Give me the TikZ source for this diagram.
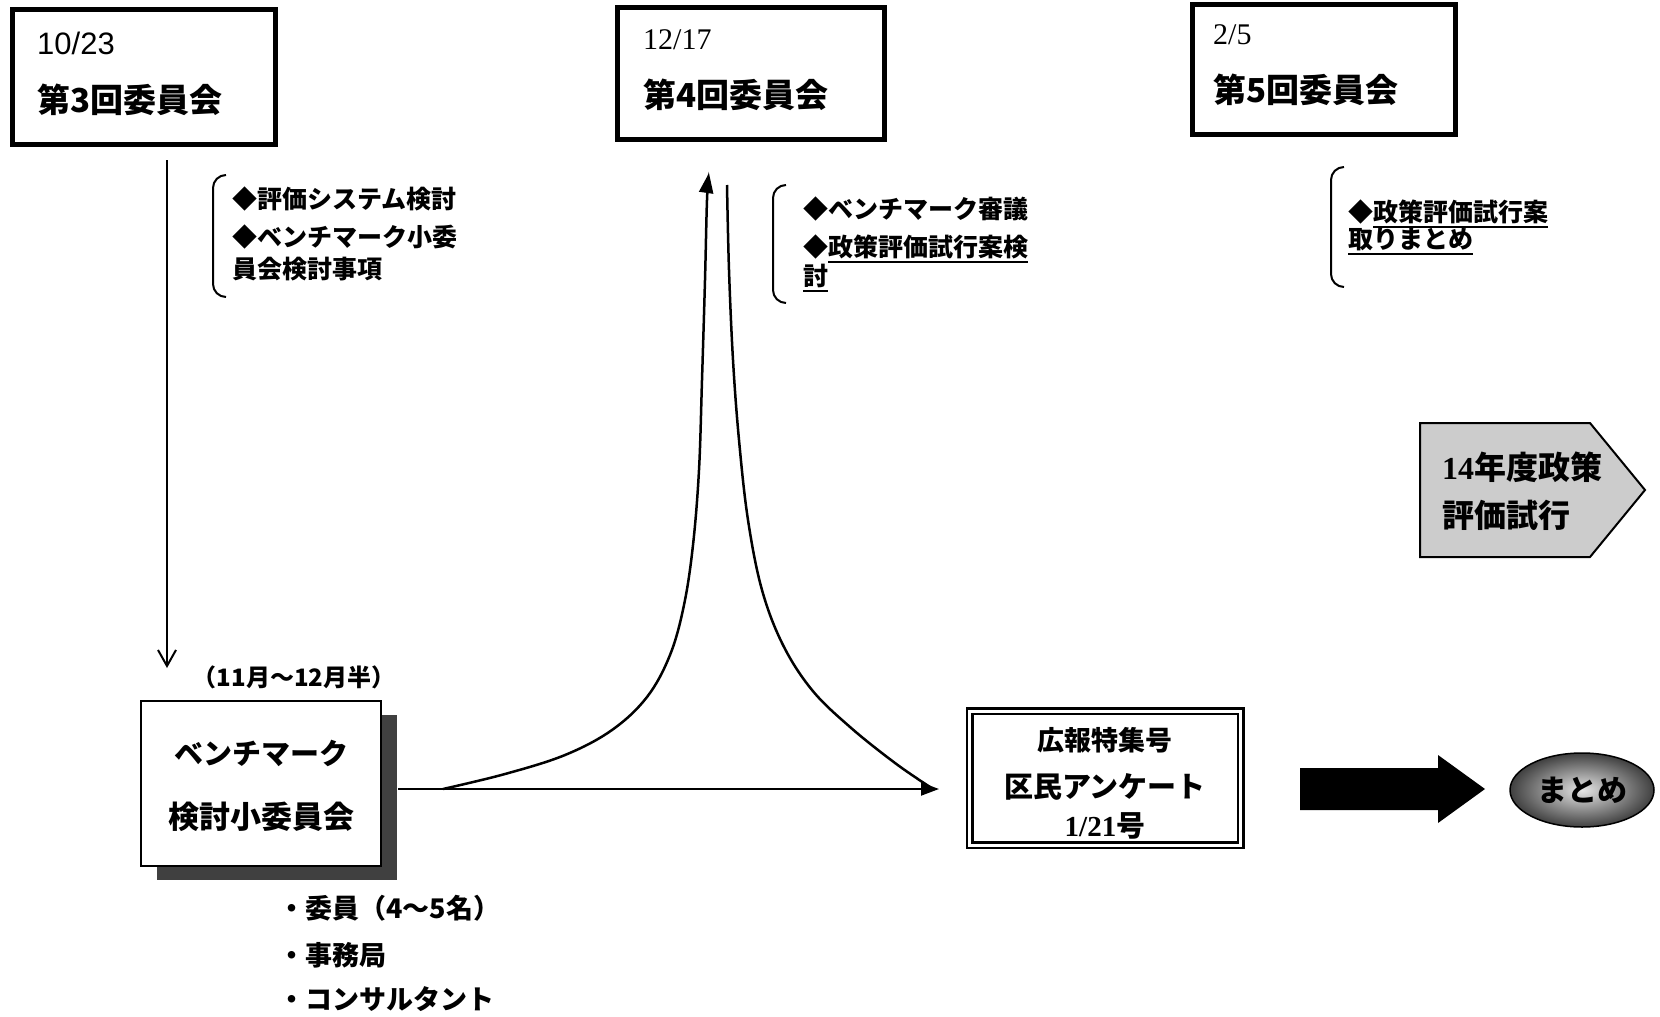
\documentclass[tikz,border=0pt]{standalone}
\usepackage{fontspec}
\setmainfont{Liberation Serif}
\newfontfamily\jp{Noto Sans CJK JP}
\newfontfamily\sansf{Liberation Sans}
\usetikzlibrary{arrows.meta,shapes.geometric,shadows,calc}
\newcommand\fsz[1]{\fontsize{#1}{#1}\selectfont}
\newcommand\myul[1]{\setbox0\hbox{#1}\rlap{\rule[-6pt]{\wd0}{2pt}}\box0}
\begin{document}
\begin{tikzpicture}[x=1pt,y=-1pt,
  cbox/.style={draw, line width=5pt, inner sep=0pt, fill=white},
  ctitle/.style={inner sep=0pt, anchor=west, font={\jp\bfseries\fsz{33}}},
  cdate/.style={inner sep=0pt, anchor=west, font={\fsz{30}}},
  note/.style={inner sep=0pt, anchor=west, text height=21pt, text depth=4pt, font={\jp\bfseries\fsz{25}}},
  brk/.style={line width=2pt},
  boxtext/.style={inner sep=0pt, font={\jp\bfseries\fsz{29}}},
  listtext/.style={inner sep=0pt, anchor=west, font={\jp\bfseries\fsz{27}}},
  curve/.style={line width=2.5pt, -{Triangle[length=20pt,width=14pt]}},
]
\useasboundingbox[fill=white] (0,0) rectangle (1660,1017);

% committee boxes
\node[cbox, minimum width=263pt, minimum height=135pt] (c3) at (144,77) {};
\node[cdate, font={\sansf\fsz{31}}] (c3d) at (37,43) {10/23};
\node[ctitle] (c3t) at (37,100) {第3回委員会};

\node[cbox, minimum width=267pt, minimum height=132pt] (c4) at (751,73.5) {};
\node[cdate] (c4d) at (643,40) {12/17};
\node[ctitle] (c4t) at (643,95) {第4回委員会};

\node[cbox, minimum width=263pt, minimum height=130pt] (c5) at (1324,69.5) {};
\node[cdate] (c5d) at (1213,35) {2/5};
\node[ctitle] (c5t) at (1213,90) {第5回委員会};

% bracket notes
\draw[brk] (226,175) to[out=180,in=90] (213,188) -- (213,284) to[out=-90,in=180] (226,297);
\node[note] (n1a) at (232,200) {◆評価システム検討};
\node[note] (n1b) at (232,238) {◆ベンチマーク小委};
\node[note] (n1c) at (232,270) {員会検討事項};

\draw[brk] (786,185) to[out=180,in=90] (773,198) -- (773,290) to[out=-90,in=180] (786,303);
\node[note] (n2a) at (803,210) {◆ベンチマーク審議};
\node[note] (n2b) at (803,248) {◆\myul{政策評価試行案検}};
\node[note] (n2c) at (803,277) {\myul{討}};

\draw[brk] (1344,167) to[out=180,in=90] (1331,180) -- (1331,274) to[out=-90,in=180] (1344,287);
\node[note] (n3a) at (1348,213) {◆\myul{政策評価試行案}};
\node[note] (n3b) at (1348,240) {\myul{取りまとめ}};

% 14 nendo pentagon
\draw[line width=2pt, fill=black!20] (1420,423) -- (1590,423) -- (1645,490) -- (1590,557) -- (1420,557) -- cycle;
\node[inner sep=0pt, anchor=west, font={\jp\bfseries\fsz{32}}] (p1) at (1442,467) {{\rmfamily 14}年度政策};
\node[inner sep=0pt, anchor=west, font={\jp\bfseries\fsz{32}}] (p2) at (1442,515) {評価試行};

% vertical arrow
\coordinate (va) at (167,160);
\coordinate (vb) at (167,668);
\draw[line width=2pt, -{Straight Barb[length=16pt,width=18pt]}] (va) -- (vb);

% benchmark box
\node[inner sep=0pt, font={\jp\bfseries\fsz{24}}] (period) at (294,677) {（11月～12月半）};
\node[draw, line width=2pt, fill=white, minimum width=240pt, minimum height=165pt, inner sep=0pt,
      drop shadow={shadow xshift=16pt, shadow yshift=-14pt, fill=black!75, opacity=1}] (bm) at (261,783.5) {};
\node[boxtext] (bm1) at (261,753) {ベンチマーク};
\node[boxtext, font={\jp\bfseries\fsz{31}}] (bm2) at (261,817) {検討小委員会};

\node[listtext] (l1) at (278,908) {・委員（4～5名）};
\node[listtext] (l2) at (278,955) {・事務局};
\node[listtext] (l3) at (278,999) {・コンサルタント};

% horizontal arrow and curves
\coordinate (h0) at (398,789);
\coordinate (h1) at (939,789);
\draw[line width=2pt, -{Triangle[length=18pt,width=13pt]}] (h0) -- (h1);
\draw[curve] plot[smooth, tension=0.6] coordinates {(443,789) (505,774) (565,755) (612,730) (647,697) (670,655) (684,605) (693,545) (699,470) (702,380) (705,280) (707,200) (709,173)};
\draw[line width=2.5pt] plot[smooth, tension=0.6] coordinates {(727,185) (729,270) (733,360) (739,440) (748,520) (762,590) (783,645) (812,690) (850,727) (895,763) (930,787)};

% kouhou box
\node[draw, double, double distance=3pt, line width=2.5pt, minimum width=271pt, minimum height=134pt, inner sep=0pt] (kh) at (1105,778) {};
\node[boxtext, font={\jp\bfseries\fsz{27}}] (k1) at (1105,740) {広報特集号};
\node[boxtext] (k2) at (1105,787) {区民アンケート};
\node[boxtext] (k3) at (1105,826) {{\rmfamily 1/21}号};

% block arrow
\fill (1300,768) -- (1438,768) -- (1438,755) -- (1485,789) -- (1438,823) -- (1438,810) -- (1300,810) -- cycle;

% matome
\node[ellipse, draw, line width=1.5pt, minimum width=144pt, minimum height=74pt, inner sep=0pt,
      inner color=black!10, outer color=black!75, font={\jp\bfseries\fsz{30}}] (mt) at (1582,790) {まとめ};
\end{tikzpicture}
\end{document}
